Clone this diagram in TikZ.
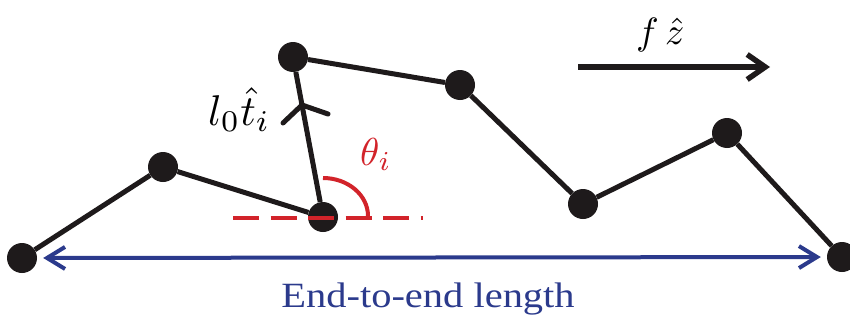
\documentclass[tikz,border=0pt]{standalone}
\usepackage{fontspec}
\newfontfamily\labelfont[FakeStretch=1.14]{Liberation Serif}
\usetikzlibrary{arrows.meta,calc}
\definecolor{beadc}{RGB}{30,26,27}
\definecolor{chainblue}{RGB}{43,58,140}
\definecolor{anglered}{RGB}{210,35,42}
\tikzset{
  bead/.style={circle,fill=beadc,minimum size=30pt,inner sep=0pt},
  seg/.style={draw=beadc,line width=5pt},
  blue barb/.tip={Straight Barb[length=18pt,width=22pt]},
  force barb/.tip={Straight Barb[length=18pt,width=25pt]},
  mathlabel/.style={inner sep=0pt,anchor=base west},
}
\begin{document}
\begin{tikzpicture}[x=1pt,y=1pt]
\useasboundingbox (0,0) rectangle (850,325);
% beads
\node[bead] (n1) at (22,67) {};
\node[bead] (n2) at (163,158) {};
\node[bead] (n3) at (323,108) {};
\node[bead] (n4) at (293,268) {};
\node[bead] (n5) at (460,240) {};
\node[bead] (n6) at (583,121) {};
\node[bead] (n7) at (727,192) {};
\node[bead] (n8) at (842,68) {};
% chain segments
\draw[seg] (n1) -- (n2) -- (n3) -- (n4) -- (n5) -- (n6) -- (n7) -- (n8);
% tangent vector mark
\coordinate (tip) at ($(n3)!0.7!(n4)$);
\draw[seg,line cap=round] ($(tip)+(-19,-18)$) -- (tip) -- ($(tip)+(26,-9)$);
\node[mathlabel] (lt) at (208,200) {\scalebox{4.3}{$l_0\hat{t}_i$}};
% angle
\coordinate (dl) at (233,107);
\coordinate (dr) at (423,107);
\draw[anglered,line width=3.3pt,dash pattern=on 26pt off 11.5pt] (dl) -- (dr);
\draw[anglered,line width=4pt] ($(n3)+(45,1)$) arc[start angle=0,end angle=90,x radius=45,y radius=38];
\node[mathlabel,text=anglered] (th) at (360,160) {\scalebox{3.9}{$\theta_i$}};
% force
\coordinate (fa) at (578,258);
\coordinate (fb) at (770,258);
\draw[draw=beadc,line width=5.5pt,-{force barb}] (fa) -- (fb);
\node[mathlabel] (fz) at (636,281) {\scalebox{3.8}{$f\,\hat{z}$}};
% end-to-end
\draw[chainblue,line width=4pt,{blue barb}-{blue barb},shorten <=6pt,shorten >=6pt] (n1) -- (n8);
\node[inner sep=0pt,anchor=base,text=chainblue] (ee) at (428,18) {\fontsize{35.5}{40}\labelfont End-to-end length};
\end{tikzpicture}
\end{document}
